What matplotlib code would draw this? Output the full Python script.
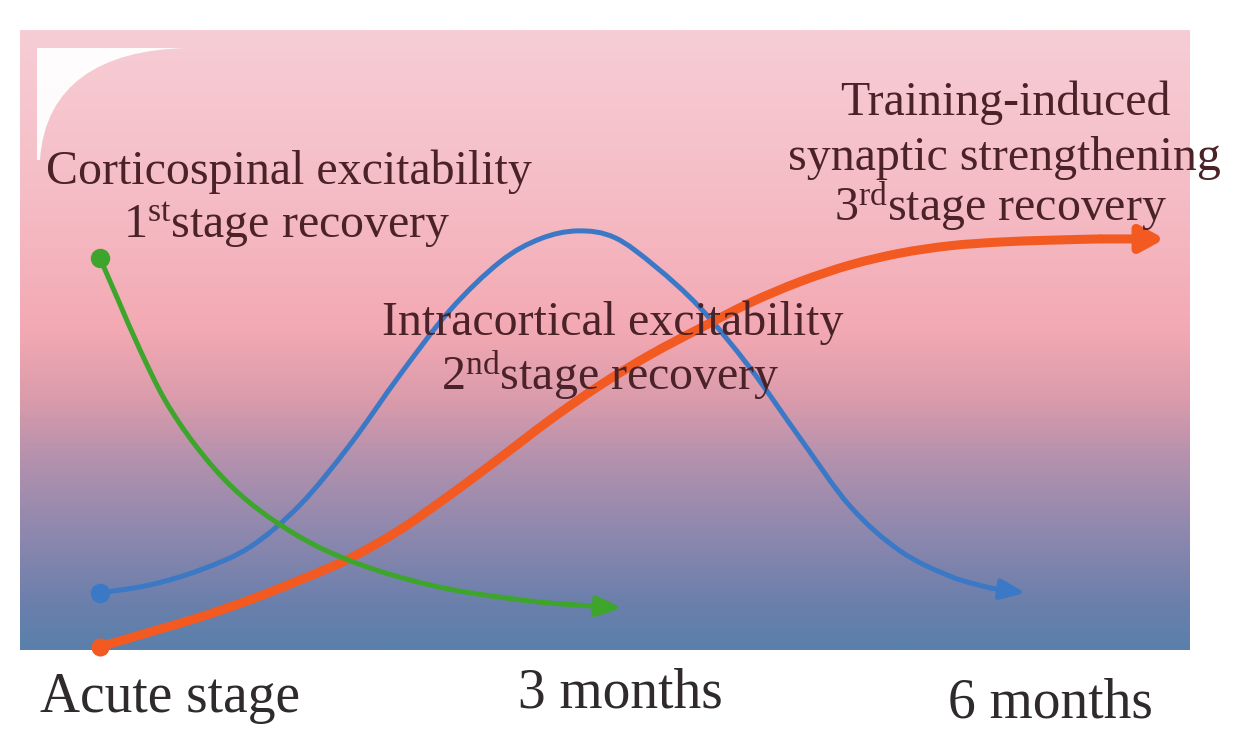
import numpy as np
import matplotlib
matplotlib.use("Agg")
import matplotlib.pyplot as plt
from matplotlib.colors import LinearSegmentedColormap
from matplotlib.path import Path
from matplotlib.patches import PathPatch

plt.rcParams['font.family'] = ['Liberation Serif', 'DejaVu Serif']
plt.rcParams['mathtext.fontset'] = 'custom'
plt.rcParams['mathtext.rm'] = 'Liberation Serif'
plt.rcParams['mathtext.it'] = 'Liberation Serif:italic'

# ---- data (time in months, level in relative units 0..1) ----
green_t = [0.0, 0.104, 0.231, 0.375, 0.548, 0.750, 0.981, 1.269, 1.615, 2.019, 2.481, 2.827, 3.012]
green_y = [0.632, 0.565, 0.484, 0.403, 0.331, 0.266, 0.213, 0.165, 0.127, 0.098, 0.079, 0.071, 0.068]

blue_t = [0.0, 0.288, 0.577, 0.865, 1.154, 1.442, 1.731, 2.019, 2.308, 2.538, 2.758, 2.971, 3.202,
          3.462, 3.750, 4.038, 4.327, 4.615, 4.904, 5.135, 5.342]
blue_y = [0.092, 0.105, 0.129, 0.166, 0.234, 0.331, 0.444, 0.548, 0.626, 0.663, 0.676, 0.665, 0.619,
          0.552, 0.455, 0.342, 0.232, 0.160, 0.119, 0.100, 0.092]

orange_t = [0.0, 0.288, 0.577, 0.865, 1.154, 1.442, 1.731, 2.019, 2.308, 2.596, 2.885, 3.173, 3.462,
            3.750, 4.038, 4.327, 4.615, 4.904, 5.192, 5.481, 5.769, 6.144]
orange_y = [0.005, 0.029, 0.053, 0.081, 0.113, 0.148, 0.194, 0.250, 0.310, 0.371, 0.427, 0.476, 0.519,
            0.560, 0.594, 0.621, 0.640, 0.652, 0.658, 0.661, 0.663, 0.663]

time_labels = ["Acute stage", "3 months", "6 months"]

# ---- figure ----
W, H = 1241, 729
fig = plt.figure(figsize=(W / 100, H / 100), dpi=100)
fig.patch.set_facecolor('white')

px_per_month = 520 / 3.0
def mx(px):
    return (px - 100) / px_per_month
def ly(py):
    return (650 - py) / 620.0

ax = fig.add_axes([20 / W, (H - 650) / H, 1170 / W, 620 / H])
x0, x1 = mx(20), mx(1190)
ax.set_xlim(x0, x1)
ax.set_ylim(0, 1)
ax.axis('off')

# background gradient
grad_cmap = LinearSegmentedColormap.from_list('bg', [
    (0.0, '#5a7fab'), (0.081, '#6d80ac'), (0.194, '#9088ae'), (0.306, '#b391ad'),
    (0.403, '#da9bab'), (0.516, '#f3a9b3'), (0.726, '#f5bcc5'), (1.0, '#f7cdd5')])
g = np.linspace(0, 1, 512).reshape(-1, 1)
ax.imshow(g, extent=[x0, x1, 0, 1], origin='lower', aspect='auto', cmap=grad_cmap, zorder=0)

# white highlight corner at top-left
verts = [(mx(37), ly(48)), (mx(187), ly(48)),
         (mx(100), ly(50)), (mx(45), ly(85)), (mx(40), ly(160)),
         (mx(37), ly(160)), (mx(37), ly(48))]
codes = [Path.MOVETO, Path.LINETO, Path.CURVE4, Path.CURVE4, Path.CURVE4, Path.LINETO, Path.CLOSEPOLY]
ax.add_patch(PathPatch(Path(verts, codes), facecolor='white', edgecolor='none', alpha=0.95, zorder=1))


def smooth_path(t, y):
    """Cubic Bezier path passing through the given points (Catmull-Rom tangents)."""
    p = np.column_stack([t, y])
    verts = [tuple(p[0])]
    codes = [Path.MOVETO]
    n = len(p)
    for i in range(n - 1):
        pm = p[i - 1] if i > 0 else p[i]
        pp = p[i + 2] if i + 2 < n else p[i + 1]
        c1 = p[i] + (p[i + 1] - pm) / 6.0
        c2 = p[i + 1] - (pp - p[i]) / 6.0
        verts += [tuple(c1), tuple(c2), tuple(p[i + 1])]
        codes += [Path.CURVE4] * 3
    return Path(verts, codes)


def arrow_curve(t, y, color, lw, ms, head_w, head_l, z):
    ax.add_patch(PathPatch(smooth_path(t[:-1], y[:-1]), facecolor='none', edgecolor=color,
                           lw=lw, capstyle='round', joinstyle='round', zorder=z))
    ax.annotate('', xy=(t[-1], y[-1]), xytext=(t[-2], y[-2]),
                arrowprops=dict(arrowstyle=f'-|>,head_width={head_w},head_length={head_l}',
                                color=color, lw=lw, shrinkA=0, shrinkB=0,
                                mutation_scale=20, capstyle='butt'),
                zorder=z)
    ax.plot([t[0]], [y[0]], 'o', color=color, ms=ms, zorder=z, clip_on=False)

arrow_curve(blue_t, blue_y, '#3b78c6', 3.6, 13, 0.3, 0.75, 3)
arrow_curve(orange_t, orange_y, '#f25a22', 6.5, 12, 0.38, 0.7, 4)
arrow_curve(green_t, green_y, '#3ea52c', 3.6, 13, 0.3, 0.75, 5)

# ---- annotations ----
tc = '#4a2228'
fs = 34.5
def T(px, py, s, size=fs, color=tc):
    ax.text(mx(px), ly(py), s, ha='center', va='baseline', fontsize=size, color=color,
            clip_on=False, zorder=6)

T(289, 184, "Corticospinal excitability")
T(287, 237, r"1$^{\mathrm{st}}$stage recovery")
T(1005, 115, "Training-induced")
T(1004, 170, "synaptic strengthening")
T(1000, 221, r"3$^{\mathrm{rd}}$stage recovery")
T(613, 335, "Intracortical excitability")
T(610, 390, r"2$^{\mathrm{nd}}$stage recovery")

bc = '#2f2a2c'
T(170, 712, time_labels[0], size=40, color=bc)
T(620, 708, time_labels[1], size=40, color=bc)
T(1050, 717, time_labels[2], size=40, color=bc)

fig.savefig('out.png', dpi=100, facecolor='white')
